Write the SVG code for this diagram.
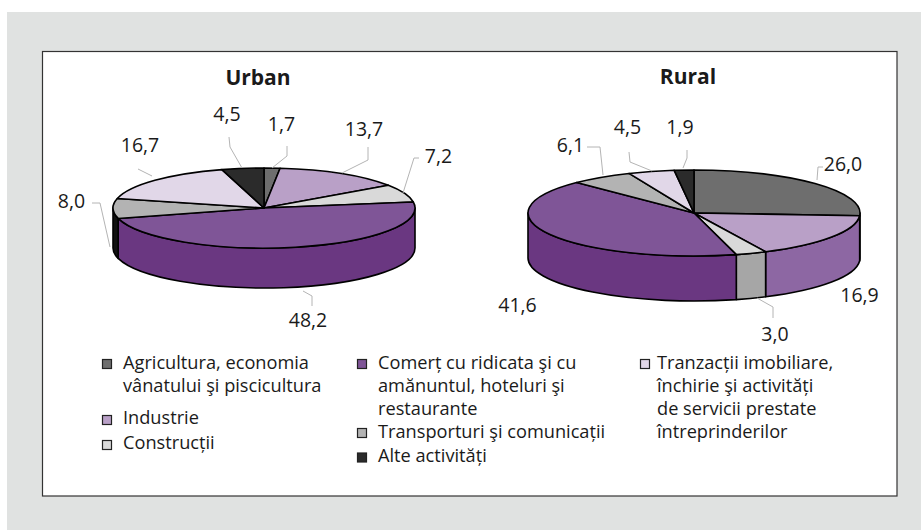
<svg xmlns="http://www.w3.org/2000/svg" width="921" height="530" viewBox="0 0 921 530">
<style>
  .t { font-family: "Open Sans", "Noto Sans", sans-serif; fill: #1a1a1a; }
  .title { font-size: 21px; font-weight: bold; text-anchor: middle; }
  .lbl { font-size: 19.5px; text-anchor: middle; }
  .leg { font-size: 18.2px; }
  .edge { stroke: #000; stroke-width: 1.6; stroke-linejoin: round; }
  .lead { fill: none; stroke: #b4b4b4; stroke-width: 1; }
  .sq { stroke: #222; stroke-width: 1.2; }
  .c-agr { fill: #6e6e6e; }
  .c-ind { fill: #b9a0c7; }
  .c-con { fill: #d9d9d9; }
  .c-com { fill: #7f5597; }
  .c-tra { fill: #b3b3b3; }
  .c-tri { fill: #e1d7e8; }
  .c-alt { fill: #2b2b2b; }
  .s-agr { fill: #555555; }
  .s-ind { fill: #8d67a3; }
  .s-con { fill: #a6a6a6; }
  .s-com { fill: #6a3781; }
  .s-tra { fill: #111111; }
</style>
<rect x="7" y="12" width="914" height="518" fill="#e0e2e1"/>
<rect x="42.5" y="51.5" width="854.5" height="444.5" fill="#ffffff" stroke="#333" stroke-width="1.2"/>

<g id="urban-pie">
  <text class="t title" x="258" y="85">Urban</text>
  <g id="urban-sides" class="edge">
    <path class="s-com" d="M415,208 A151,40 0 0 1 118.2,218.44 L118.2,258.44 A151,40 0 0 0 415,248 Z"/>
    <path class="s-tra" d="M118.2,218.44 A151,40 0 0 1 113,208 L113,248 A151,40 0 0 0 118.2,258.44 Z"/>
  </g>
  <g id="urban-agricultura"><path class="edge c-agr" d="M264,208 L264,168 A151,40 0 0 1 280.1,168.23 Z"/></g>
  <g id="urban-industrie"><path class="edge c-ind" d="M264,208 L280.1,168.23 A151,40 0 0 1 388.4,185.31 Z"/></g>
  <g id="urban-constructii"><path class="edge c-con" d="M264,208 L388.4,185.31 A151,40 0 0 1 413.3,201.99 Z"/></g>
  <g id="urban-comert"><path class="edge c-com" d="M264,208 L413.3,201.99 A151,40 0 0 1 118.2,218.44 Z"/></g>
  <g id="urban-transport"><path class="edge c-tra" d="M264,208 L118.2,218.44 A151,40 0 0 1 117.3,198.54 Z"/></g>
  <g id="urban-tranzactii"><path class="edge c-tri" d="M264,208 L117.3,198.54 A151,40 0 0 1 221.9,169.59 Z"/></g>
  <g id="urban-alte"><path class="edge c-alt" d="M264,208 L221.9,169.59 A151,40 0 0 1 264,168 Z"/></g>
</g>

<g id="rural-pie">
  <text class="t title" x="688" y="84">Rural</text>
  <g id="rural-sides" class="edge">
    <path class="s-agr" d="M860,213 A166,43 0 0 1 859.67,215.70 L859.67,260.70 A166,43 0 0 0 860,258 Z"/>
    <path class="s-ind" d="M859.67,215.70 A166,43 0 0 1 765.62,251.79 L765.62,296.79 A166,43 0 0 0 859.67,260.70 Z"/>
    <path class="s-con" d="M765.62,251.79 A166,43 0 0 1 736.29,254.58 L736.29,299.58 A166,43 0 0 0 765.62,296.79 Z"/>
    <path class="s-com" d="M736.29,254.58 A166,43 0 0 1 528,213 L528,258 A166,43 0 0 0 736.29,299.58 Z"/>
  </g>
  <g id="rural-agricultura"><path class="edge c-agr" d="M694,213 L694,170 A166,43 0 0 1 859.67,215.70 Z"/></g>
  <g id="rural-industrie"><path class="edge c-ind" d="M694,213 L859.67,215.70 A166,43 0 0 1 765.62,251.79 Z"/></g>
  <g id="rural-constructii"><path class="edge c-con" d="M694,213 L765.62,251.79 A166,43 0 0 1 736.29,254.58 Z"/></g>
  <g id="rural-comert"><path class="edge c-com" d="M694,213 L736.29,254.58 A166,43 0 0 1 576.62,182.59 Z"/></g>
  <g id="rural-transport"><path class="edge c-tra" d="M694,213 L576.62,182.59 A166,43 0 0 1 629.03,173.43 Z"/></g>
  <g id="rural-tranzactii"><path class="edge c-tri" d="M694,213 L629.03,173.43 A166,43 0 0 1 674.23,170.31 Z"/></g>
  <g id="rural-alte"><path class="edge c-alt" d="M694,213 L674.23,170.31 A166,43 0 0 1 694,170 Z"/></g>
</g>

<g id="connectors">
  <polyline class="lead" points="229,137 230,147 242,168"/>
  <polyline class="lead" points="287,146 287,156 272,168"/>
  <polyline class="lead" points="368,147 368,160 342,173"/>
  <polyline class="lead" points="419,158 414,158 403,193"/>
  <polyline class="lead" points="138,169 152,176"/>
  <polyline class="lead" points="92,203 100,203 110,247"/>
  <polyline class="lead" points="312,306 312,296 303,291"/>
  <polyline class="lead" points="587,147 600,147 603,175"/>
  <polyline class="lead" points="629,152 630,162 652,171"/>
  <polyline class="lead" points="687,150 687,158 683,168"/>
  <polyline class="lead" points="823,167 818,167 817,180"/>
  <polyline class="lead" points="773,318 773,307 757,298"/>
</g>

<g id="labels">
  <text class="t lbl" x="227" y="121">4,5</text>
  <text class="t lbl" x="281.5" y="131">1,7</text>
  <text class="t lbl" x="364" y="136">13,7</text>
  <text class="t lbl" x="438.5" y="163">7,2</text>
  <text class="t lbl" x="140" y="152">16,7</text>
  <text class="t lbl" x="71.5" y="208">8,0</text>
  <text class="t lbl" x="308" y="327">48,2</text>
  <text class="t lbl" x="570.5" y="152">6,1</text>
  <text class="t lbl" x="627.5" y="134">4,5</text>
  <text class="t lbl" x="680" y="134">1,9</text>
  <text class="t lbl" x="843" y="171">26,0</text>
  <text class="t lbl" x="859.5" y="302">16,9</text>
  <text class="t lbl" x="775" y="341">3,0</text>
  <text class="t lbl" x="517.5" y="312">41,6</text>
</g>

<g id="legend">
  <g id="leg-agricultura">
    <rect class="sq c-agr" x="102.5" y="359.5" width="9" height="9"/>
    <text class="t leg" x="123" y="369">Agricultura, economia</text>
    <text class="t leg" x="123" y="392">vânatului şi piscicultura</text>
  </g>
  <g id="leg-industrie">
    <rect class="sq c-ind" x="102.5" y="415.5" width="9" height="9"/>
    <text class="t leg" x="123" y="424">Industrie</text>
  </g>
  <g id="leg-constructii">
    <rect class="sq c-con" x="102.5" y="440.5" width="9" height="9"/>
    <text class="t leg" x="123" y="449">Construcții</text>
  </g>
  <g id="leg-comert">
    <rect class="sq c-com" x="357.5" y="359.5" width="9" height="9"/>
    <text class="t leg" x="378" y="369">Comerț cu ridicata şi cu</text>
    <text class="t leg" x="378" y="392">amănuntul, hoteluri şi</text>
    <text class="t leg" x="378" y="415">restaurante</text>
  </g>
  <g id="leg-transport">
    <rect class="sq c-tra" x="357.5" y="428.5" width="9" height="9"/>
    <text class="t leg" x="378" y="438">Transporturi şi comunicații</text>
  </g>
  <g id="leg-alte">
    <rect class="sq c-alt" x="357.5" y="453" width="9" height="9"/>
    <text class="t leg" x="378" y="462">Alte activități</text>
  </g>
  <g id="leg-tranzactii">
    <rect class="sq c-tri" x="640.5" y="359.5" width="9" height="9"/>
    <text class="t leg" x="657" y="369">Tranzacții imobiliare,</text>
    <text class="t leg" x="657" y="392">închirie şi activități</text>
    <text class="t leg" x="657" y="415">de servicii prestate</text>
    <text class="t leg" x="657" y="438">întreprinderilor</text>
  </g>
</g>
</svg>
